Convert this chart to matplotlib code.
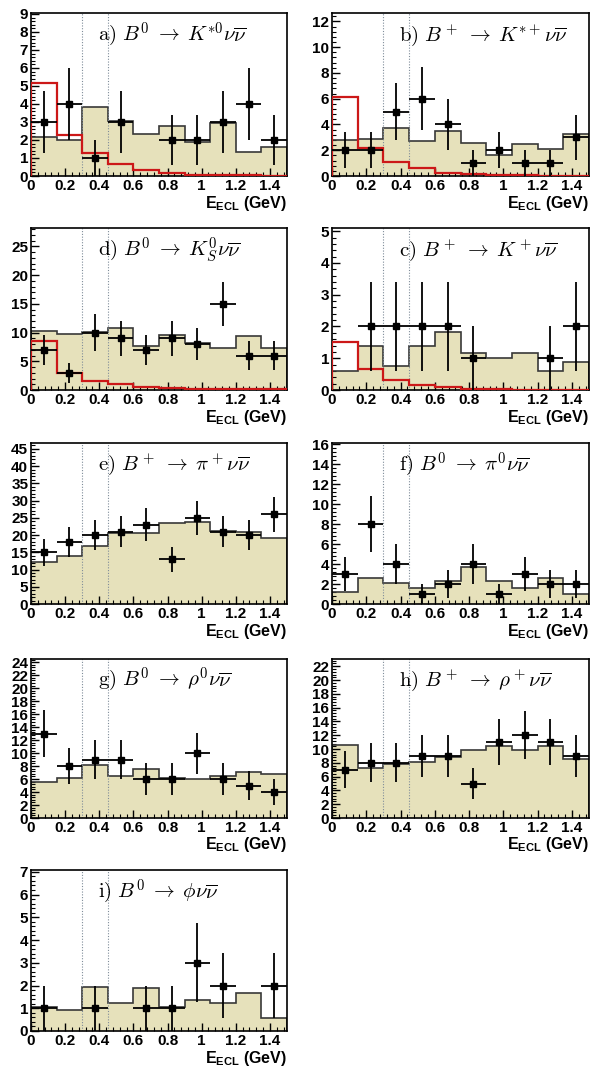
import numpy as np
import matplotlib
matplotlib.use("Agg")
import matplotlib.pyplot as plt
from matplotlib.ticker import MultipleLocator, AutoMinorLocator

plt.rcParams['mathtext.fontset'] = 'custom'
plt.rcParams['mathtext.rm'] = 'Liberation Sans:bold'
plt.rcParams['mathtext.bf'] = 'Liberation Sans:bold'
plt.rcParams['mathtext.it'] = 'Liberation Sans:bold'

bin_edges = [0.0, 0.15, 0.30, 0.45, 0.60, 0.75, 0.90, 1.05, 1.20, 1.35, 1.50]

# background histograms (filled)
bkg_a = [2.15, 2.0, 3.85, 3.05, 2.35, 2.75, 1.9, 2.95, 1.35, 1.6]
bkg_b = [2.8, 2.9, 3.7, 2.75, 3.5, 2.55, 1.65, 2.5, 2.1, 3.25]
bkg_d = [10.2, 9.8, 10.1, 10.8, 7.6, 9.6, 8.1, 7.3, 9.4, 7.3]
bkg_c = [0.6, 1.37, 0.75, 1.37, 1.83, 1.15, 1.02, 1.15, 0.6, 0.87]
bkg_e = [12.3, 13.8, 16.9, 20.6, 20.7, 23.4, 23.8, 21.1, 21.0, 19.0]
bkg_f = [1.25, 2.6, 2.1, 1.6, 2.35, 3.75, 2.3, 1.6, 2.6, 1.05]
bkg_g = [5.6, 6.1, 8.1, 6.4, 7.5, 6.1, 6.0, 6.4, 7.1, 6.8]
bkg_h = [10.6, 7.2, 7.9, 8.1, 8.9, 9.9, 10.4, 9.8, 10.4, 8.5]
bkg_i = [1.05, 0.92, 1.93, 1.25, 1.9, 1.05, 1.38, 1.25, 1.65, 0.58]

# signal histograms (red)
sig_a = [5.15, 2.25, 1.25, 0.65, 0.35, 0.15, 0.08, 0.05, 0.03, 0.02]
sig_b = [6.1, 2.15, 1.05, 0.6, 0.25, 0.15, 0.08, 0.05, 0.03, 0.02]
sig_d = [8.6, 3.0, 1.6, 1.0, 0.5, 0.3, 0.2, 0.15, 0.1, 0.1]
sig_c = [1.5, 0.65, 0.33, 0.17, 0.08, 0.04, 0.02, 0.01, 0.01, 0.01]

# data counts
data_a = [3, 4, 1, 3, 0, 2, 2, 3, 4, 2]
data_b = [2, 2, 5, 6, 4, 1, 2, 1, 1, 3]
data_d = [7, 3, 10, 9, 7, 9, 8, 15, 6, 6]
data_c = [0, 2, 2, 2, 2, 1, 0, 0, 1, 2]
data_e = [15, 18, 20, 21, 23, 13, 25, 21, 20, 26]
data_f = [3, 8, 4, 1, 2, 4, 1, 3, 2, 2]
data_g = [13, 8, 9, 9, 6, 6, 10, 6, 5, 4]
data_h = [7, 8, 8, 9, 9, 5, 11, 12, 11, 9]
data_i = [1, 0, 1, 0, 1, 1, 3, 2, 0, 2]

# vertical error bars of the data
err_a = [1.73, 2.0, 1.0, 1.73, 0, 1.41, 1.41, 1.73, 2.0, 1.41]
err_b = [1.41, 1.41, 2.24, 2.45, 2.0, 1.0, 1.41, 1.0, 1.0, 1.73]
err_d = [2.65, 1.73, 3.16, 3.0, 2.65, 3.0, 2.83, 3.87, 2.45, 2.45]
err_c = [0, 1.41, 1.41, 1.41, 1.41, 1.0, 0, 0, 1.0, 1.41]
err_e = [3.87, 4.24, 4.47, 4.58, 4.80, 3.61, 5.0, 4.58, 4.47, 5.10]
err_f = [1.73, 2.83, 2.0, 1.0, 1.41, 2.0, 1.0, 1.73, 1.41, 1.41]
err_g = [3.61, 2.83, 3.0, 3.0, 2.45, 2.45, 3.16, 2.45, 2.24, 2.0]
err_h = [2.65, 2.83, 2.83, 3.0, 3.0, 2.24, 3.32, 3.46, 3.32, 3.0]
err_i = [1.0, 0, 1.0, 0, 1.0, 1.0, 1.73, 1.41, 0, 1.41]

titles = {
    'a': r'$\mathrm{a)}\ B^0 \;\rightarrow\; K^{*0}\nu\overline{\nu}$',
    'b': r'$\mathrm{b)}\ B^+ \;\rightarrow\; K^{*+}\nu\overline{\nu}$',
    'd': r'$\mathrm{d)}\ B^0 \;\rightarrow\; K^0_S\nu\overline{\nu}$',
    'c': r'$\mathrm{c)}\ B^+ \;\rightarrow\; K^+\nu\overline{\nu}$',
    'e': r'$\mathrm{e)}\ B^+ \;\rightarrow\; \pi^+\nu\overline{\nu}$',
    'f': r'$\mathrm{f)}\ B^0 \;\rightarrow\; \pi^0\nu\overline{\nu}$',
    'g': r'$\mathrm{g)}\ B^0 \;\rightarrow\; \rho^0\nu\overline{\nu}$',
    'h': r'$\mathrm{h)}\ B^+ \;\rightarrow\; \rho^+\nu\overline{\nu}$',
    'i': r'$\mathrm{i)}\ B^0 \;\rightarrow\; \phi\nu\overline{\nu}$',
}

panels = [
    ('a', bkg_a, sig_a, data_a, err_a, 9.05, 1),
    ('b', bkg_b, sig_b, data_b, err_b, 12.65, 2),
    ('d', bkg_d, sig_d, data_d, err_d, 28.2, 5),
    ('c', bkg_c, sig_c, data_c, err_c, 5.1, 1),
    ('e', bkg_e, None, data_e, err_e, 46.7, 5),
    ('f', bkg_f, None, data_f, err_f, 16.15, 2),
    ('g', bkg_g, None, data_g, err_g, 24.5, 2),
    ('h', bkg_h, None, data_h, err_h, 23.05, 2),
    ('i', bkg_i, None, data_i, err_i, 7.08, 1),
]

W, H = 592, 1067
fig = plt.figure(figsize=(W / 100, H / 100), dpi=100)
col_x = [(31, 287), (332, 589)]
rows_y = [(13, 176), (228, 390), (443, 604), (659, 818), (870, 1031)]

fill_col = '#e6e1bb'
edges = np.array(bin_edges)
centers = 0.5 * (edges[:-1] + edges[1:])
halfw = 0.5 * (edges[1:] - edges[:-1])

for k, (key, bkg, sig, dat, err, ymax, major) in enumerate(panels):
    r, c = divmod(k, 2)
    x0, x1 = col_x[c]
    y0, y1 = rows_y[r]
    ax = fig.add_axes([x0 / W, 1 - y1 / H, (x1 - x0) / W, (y1 - y0) / H])
    bkg = np.array(bkg)
    ax.stairs(bkg, edges, fill=True, color=fill_col, zorder=1)
    ax.stairs(bkg, edges, fill=False, color='#383838', lw=1.2, zorder=2)
    if sig is not None:
        ax.stairs(np.array(sig), edges, fill=False, color='#cc1818', lw=1.6, zorder=3)
    for xv in (0.30, 0.45):
        ax.axvline(xv, color='#7f8c99', lw=0.8, ls=(0, (1, 1.5)), zorder=2.5)
    dat = np.array(dat, dtype=float)
    err = np.array(err)
    m = dat > 0
    ax.errorbar(centers[m], dat[m], yerr=err[m], xerr=halfw[m], fmt='s',
                color='black', ms=4.2, lw=1.3, capsize=0, zorder=4)
    ax.set_xlim(0, 1.5)
    ax.set_ylim(0, ymax)
    ax.yaxis.set_major_locator(MultipleLocator(major))
    ax.yaxis.set_minor_locator(AutoMinorLocator(5))
    ax.set_xticks([0, 0.2, 0.4, 0.6, 0.8, 1.0, 1.2, 1.4])
    ax.set_xticklabels(['0', '0.2', '0.4', '0.6', '0.8', '1', '1.2', '1.4'])
    ax.xaxis.set_minor_locator(AutoMinorLocator(5))
    ax.tick_params(which='both', direction='in', top=False, right=False)
    ax.tick_params(which='major', length=6, width=1.0)
    ax.tick_params(which='minor', length=3, width=0.8)
    ax.tick_params(axis='both', labelsize=11, pad=2)
    for lab in ax.get_xticklabels() + ax.get_yticklabels():
        lab.set_fontfamily('Liberation Sans')
        lab.set_fontweight('bold')
    for s in ax.spines.values():
        s.set_linewidth(1.2)
    ax.text(0.26, 0.83, titles[key], transform=ax.transAxes, fontsize=15,
            math_fontfamily='cm', va='baseline', ha='left', zorder=5)
    ax.text(1.0, -0.11, r'E$_{\mathrm{ECL}}$ (GeV)', transform=ax.transAxes,
            ha='right', va='top', fontsize=11.5, fontfamily='Liberation Sans',
            fontweight='bold', math_fontfamily='custom')

fig.savefig('out.png', dpi=100)
